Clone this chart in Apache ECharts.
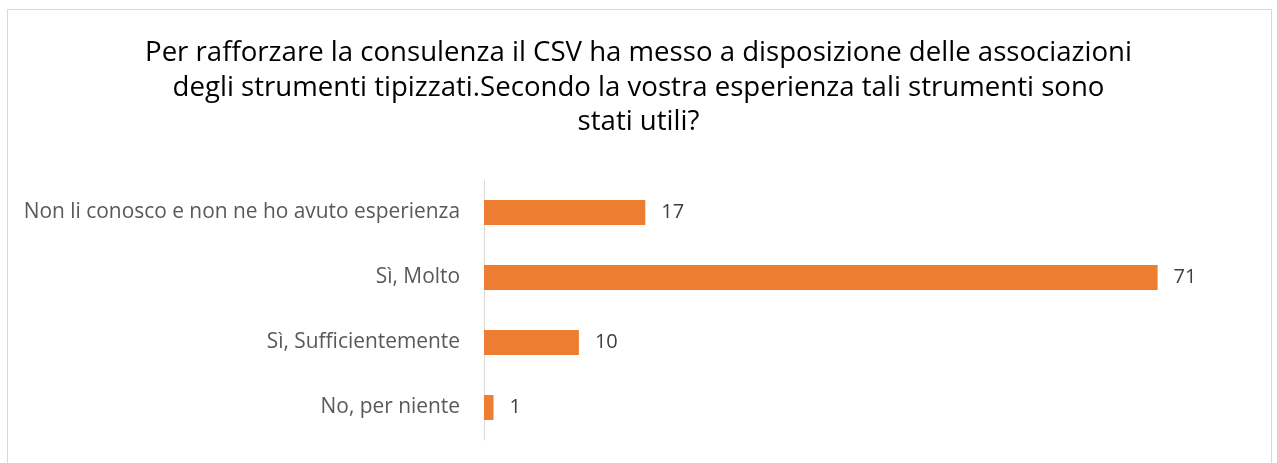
<!DOCTYPE html>
<html><head><meta charset="utf-8">
<script src="https://cdn.jsdelivr.net/npm/echarts@6/dist/echarts.min.js"></script>
<style>
html,body{margin:0;padding:0;background:#fff;}
#frame{position:absolute;left:7px;top:9px;width:1265px;height:460px;border:1px solid #d9d9d9;box-sizing:border-box;}
#c{position:absolute;left:0;top:0;width:1277px;height:463px;}
</style>
</head><body>
<div id="frame"></div>
<div id="c"></div>
<script>
const titleLines = [
  "Per rafforzare la consulenza il CSV ha messo a disposizione delle associazioni",
  "degli strumenti tipizzati.Secondo la vostra esperienza tali strumenti sono",
  "stati utili?"
];
const categories = ["No, per niente", "Sì, Sufficientemente", "Sì, Molto", "Non li conosco e non ne ho avuto esperienza"];
const values = [1, 10, 71, 17];

const chart = echarts.init(document.getElementById('c'), null, {renderer: 'canvas'});
chart.setOption({
  animation: false,
  title: {
    text: titleLines.join('\n'),
    left: 'center',
    top: 31,
    textStyle: {fontFamily: 'Open Sans', fontSize: 27.6, fontWeight: 'normal', color: '#000000', lineHeight: 34.5}
  },
  grid: {left: 484, top: 180, width: 759, height: 260},
  xAxis: {type: 'value', min: 0, max: 80, show: false},
  yAxis: {
    type: 'category', data: categories,
    axisLine: {show: true, lineStyle: {color: '#d9d9d9', width: 1}},
    axisTick: {show: false},
    axisLabel: {fontFamily: 'Open Sans', fontSize: 20.9, color: '#595959', margin: 24}
  },
  series: [{
    type: 'bar', data: values, barWidth: 25,
    itemStyle: {color: '#ED7D31'},
    label: {show: true, position: 'right', distance: 16, fontFamily: 'Open Sans', fontSize: 20, color: '#404040'}
  }]
});
</script>
</body></html>
